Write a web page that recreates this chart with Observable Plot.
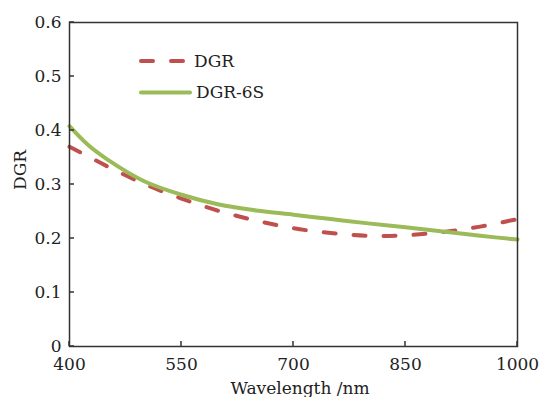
<!DOCTYPE html>
<html>
<head>
<meta charset="utf-8">
<script src="https://cdn.jsdelivr.net/npm/d3@7"></script>
<script src="https://cdn.jsdelivr.net/npm/@observablehq/plot@0.6"></script>
<style>
  html, body { margin: 0; padding: 0; background: #fff; }
  #chart svg { display: block; }
</style>
</head>
<body>
<div id="chart"></div>
<script>
const wavelengths = [400, 425, 450, 500, 550, 600, 650, 700, 750, 800, 850, 900, 950, 1000];
const dgrValues   = [0.370, 0.352, 0.334, 0.301, 0.274, 0.251, 0.233, 0.219, 0.210, 0.205, 0.206, 0.212, 0.222, 0.236];
const dgr6sValues = [0.408, 0.373, 0.347, 0.306, 0.281, 0.263, 0.252, 0.244, 0.236, 0.228, 0.221, 0.213, 0.205, 0.198];
const seriesNames = ["DGR", "DGR-6S"];
const seriesColors = ["#c0504d", "#9bbb59"];
const xTicks = [400, 550, 700, 850, 1000];
const yTicks = [0, 0.1, 0.2, 0.3, 0.4, 0.5, 0.6];
const xLabel = "Wavelength /nm";
const yLabel = "DGR";

const dgrData = wavelengths.map((w, i) => ({w, v: dgrValues[i]}));
const dgr6sData = wavelengths.map((w, i) => ({w, v: dgr6sValues[i]}));

const font = "'DejaVu Serif', serif";
const axisColor = "#333";
const textColor = "#222";

const chart = Plot.plot({
  width: 540,
  height: 397,
  marginLeft: 69,
  marginRight: 23,
  marginTop: 22,
  marginBottom: 51,
  style: {fontFamily: font, fontSize: "17px", color: textColor, background: "#fff"},
  x: {domain: [400, 1000], label: null},
  y: {domain: [0, 0.6], label: null},
  marks: [
    Plot.axisX({ticks: xTicks, tickSize: 0, tickPadding: 11, tickFormat: d => String(d), fill: textColor, fontSize: 17}),
    Plot.axisY({ticks: yTicks, tickSize: 0, tickPadding: 8, tickFormat: d => d === 0 ? "0" : d.toFixed(1), fill: textColor, fontSize: 17}),
    Plot.line(dgrData, {x: "w", y: "v", stroke: seriesColors[0], strokeWidth: 4, strokeDasharray: "12,18", strokeLinecap: "round", curve: "catmull-rom"}),
    Plot.line(dgr6sData, {x: "w", y: "v", stroke: seriesColors[1], strokeWidth: 4, curve: "catmull-rom"}),
    Plot.frame({stroke: axisColor, strokeWidth: 1.5})
  ]
});

document.getElementById("chart").appendChild(chart);

const svg = d3.select(chart);
const sx = chart.scale("x"), sy = chart.scale("y");
const x0 = sx.apply(400), x1 = sx.apply(1000), y0 = sy.apply(0), y1 = sy.apply(0.6);

// inward tick marks, positioned by the plot's own scales
const tg = svg.append("g").attr("stroke", axisColor).attr("stroke-width", 1.5);
xTicks.forEach(t => {
  const px = sx.apply(t);
  tg.append("line").attr("x1", px).attr("x2", px).attr("y1", y0).attr("y2", y0 - 5);
});
yTicks.forEach(t => {
  const py = sy.apply(t);
  tg.append("line").attr("x1", x0).attr("x2", x0 + 5).attr("y1", py).attr("y2", py);
});

// axis titles
const labels = svg.append("g").attr("font-family", font).attr("font-size", 17).attr("fill", textColor).attr("text-anchor", "middle");
labels.append("text").attr("x", (x0 + x1) / 2 + 7).attr("y", y0 + 42).attr("dy", "0.35em").text(xLabel);
labels.append("text").attr("transform", `translate(20, ${(y0 + y1) / 2 - 14}) rotate(-90)`).attr("dy", "0.35em").text(yLabel);

// legend inside the plot area
const lg = svg.append("g").attr("font-family", font).attr("font-size", 17).attr("fill", textColor);
const legendRows = [
  {name: seriesNames[0], color: seriesColors[0], dash: "12,18", y: 61, x2: 184, tx: 194},
  {name: seriesNames[1], color: seriesColors[1], dash: null, y: 92.5, x2: 190, tx: 196}
];
legendRows.forEach(r => {
  lg.append("line")
    .attr("x1", 141).attr("x2", r.x2)
    .attr("y1", r.y).attr("y2", r.y)
    .attr("stroke", r.color).attr("stroke-width", 4)
    .attr("stroke-linecap", "round")
    .attr("stroke-dasharray", r.dash);
  lg.append("text")
    .attr("x", r.tx).attr("y", r.y).attr("dy", "0.35em")
    .attr("text-anchor", "start")
    .text(r.name);
});
</script>
</body>
</html>
